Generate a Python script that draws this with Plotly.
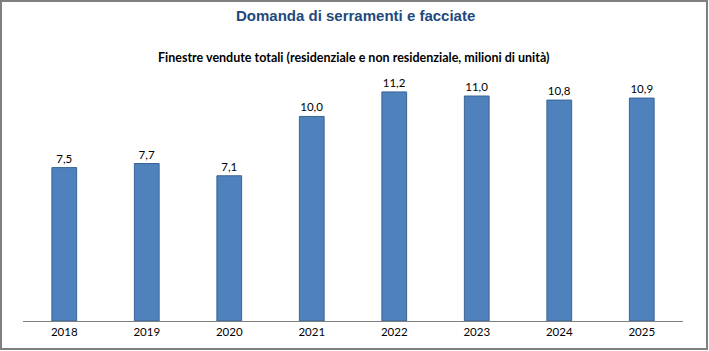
import plotly.graph_objects as go

years = ["2018", "2019", "2020", "2021", "2022", "2023", "2024", "2025"]
values = [7.5, 7.7, 7.1, 10.0, 11.2, 11.0, 10.8, 10.9]
labels = [f"{v:.1f}".replace(".", ",") for v in values]

W, H = 709, 351
L, R, T, B = 23, 26, 60, 30
pw, ph = W - L - R, H - T - B

def px_x(x):
    return (x - L) / pw

def px_y(y):
    return (H - B - y) / ph

SMALL = "Lato, Carlito, Calibri, sans-serif"

fig = go.Figure()
fig.add_trace(go.Bar(
    x=years, y=values, text=labels, textposition="outside",
    textfont=dict(family=SMALL, size=11.5, color="#000000"),
    marker=dict(color="#4F81BD", line=dict(color="#3A6496", width=1)),
    width=0.3, cliponaxis=False, hoverinfo="skip",
))

fig.update_layout(
    width=W, height=H,
    margin=dict(l=L, r=R, t=T, b=B),
    paper_bgcolor="white", plot_bgcolor="white",
    showlegend=False,
    bargap=0.7,
    xaxis=dict(
        type="category", range=[-0.5, 7.5], showgrid=False, ticks="",
        showline=True, linecolor="#808080", linewidth=1,
        tickfont=dict(family=SMALL, size=11.5, color="#000000"),
        fixedrange=True,
    ),
    yaxis=dict(
        range=[0, 12.76], visible=False, showgrid=False, fixedrange=True,
    ),
    annotations=[
        dict(text="<b>Domanda di serramenti e facciate</b>", xref="paper", yref="paper",
             x=px_x(355), y=px_y(16), xanchor="center", yanchor="middle", showarrow=False,
             font=dict(family="Liberation Sans, Arial, sans-serif", size=15, color="#1F497D")),
        dict(text="<b>Finestre vendute totali (residenziale e non residenziale, milioni di unità)</b>",
             xref="paper", yref="paper",
             x=px_x(354), y=px_y(58), xanchor="center", yanchor="middle", showarrow=False,
             font=dict(family=SMALL, size=12.5, color="#000000")),
    ],
    shapes=[
        dict(type="rect", xref="paper", yref="paper",
             x0=px_x(1), x1=px_x(707), y0=px_y(349), y1=px_y(1),
             line=dict(color="#808080", width=2), fillcolor="rgba(0,0,0,0)", layer="above"),
    ],
)

fig.write_html("out.html")
